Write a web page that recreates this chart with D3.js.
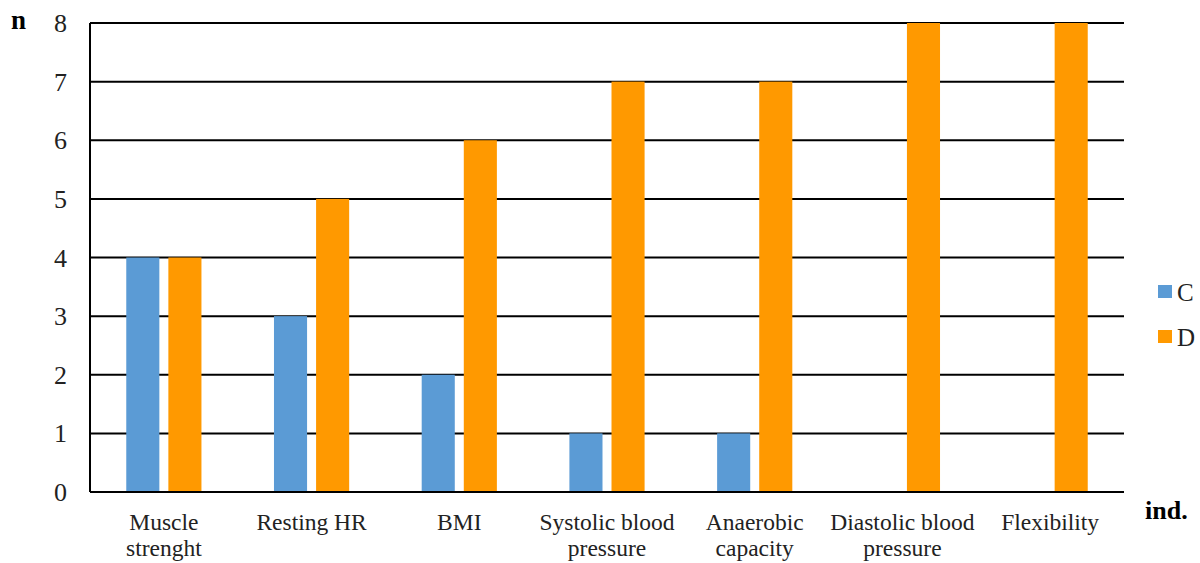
<!DOCTYPE html>
<html>
<head>
<meta charset="utf-8">
<script src="https://cdn.jsdelivr.net/npm/d3@7"></script>
<style>
  html, body { margin: 0; padding: 0; background: #fff; }
  svg { display: block; }
</style>
</head>
<body>
<svg id="chart" width="1200" height="563"></svg>
<script>
// Indicators (two-line labels) and counts per group
const categories = [
  ["Muscle", "strenght"],
  ["Resting HR"],
  ["BMI"],
  ["Systolic blood", "pressure"],
  ["Anaerobic", "capacity"],
  ["Diastolic blood", "pressure"],
  ["Flexibility"]
];
const seriesC = [4, 3, 2, 1, 1, 0, 0];
const seriesD = [4, 5, 6, 7, 7, 8, 8];
const seriesNames = ["C", "D"];
const yTicks = [0, 1, 2, 3, 4, 5, 6, 7, 8];

const colors = { C: "#5B9BD5", D: "#FF9900" };
const FONT = "'Times New Roman', 'Liberation Serif', 'DejaVu Serif', serif";

const svg = d3.select("#chart").style("font-family", FONT);
const plot = { left: 90, right: 1124, top: 23, bottom: 492 };

const x = d3.scaleBand()
  .domain(d3.range(categories.length))
  .range([plot.left, plot.right])
  .paddingInner(0).paddingOuter(0);

const y = d3.scaleLinear().domain([0, 8]).range([plot.bottom, plot.top]);

// Horizontal gridlines
svg.append("g")
  .selectAll("line")
  .data(yTicks)
  .join("line")
  .attr("x1", plot.left).attr("x2", plot.right)
  .attr("y1", d => y(d)).attr("y2", d => y(d))
  .attr("stroke", "#000").attr("stroke-width", 2);

// Vertical axis line
svg.append("line")
  .attr("x1", plot.left).attr("x2", plot.left)
  .attr("y1", plot.top).attr("y2", plot.bottom)
  .attr("stroke", "#000").attr("stroke-width", 2);

// Bars
const bw = x.bandwidth() * 0.224;
const gap = x.bandwidth() * 0.061;
const series = [
  { name: "C", values: seriesC, offset: -gap / 2 - bw },
  { name: "D", values: seriesD, offset: gap / 2 }
];
series.forEach(s => {
  svg.append("g")
    .selectAll("rect")
    .data(s.values.map((v, i) => ({ v, i })))
    .join("rect")
    .attr("x", d => x(d.i) + x.bandwidth() / 2 + s.offset)
    .attr("width", bw)
    .attr("y", d => y(d.v))
    .attr("height", d => y(0) - y(d.v))
    .attr("fill", colors[s.name]);
});

// Baseline drawn on top
svg.append("line")
  .attr("x1", plot.left).attr("x2", plot.right)
  .attr("y1", y(0)).attr("y2", y(0))
  .attr("stroke", "#000").attr("stroke-width", 2);

// Y tick labels
svg.append("g")
  .selectAll("text")
  .data(yTicks)
  .join("text")
  .attr("x", 67)
  .attr("y", d => y(d) + 9)
  .attr("text-anchor", "end")
  .attr("font-size", 26)
  .attr("fill", "#222")
  .text(d => d);

// Category labels
const catG = svg.append("g");
categories.forEach((lines, i) => {
  const t = catG.append("text")
    .attr("text-anchor", "middle")
    .attr("font-size", 23.5)
    .attr("fill", "#222");
  lines.forEach((ln, j) => {
    t.append("tspan")
      .attr("x", x(i) + x.bandwidth() / 2)
      .attr("y", 530 + j * 26)
      .text(ln);
  });
});

// Axis titles
svg.append("text").attr("x", 11).attr("y", 29)
  .attr("font-size", 27).attr("font-weight", "bold").text("n");
svg.append("text").attr("x", 1145).attr("y", 519)
  .attr("font-size", 26).attr("font-weight", "bold").text("ind.");

// Legend
const legend = svg.append("g");
seriesNames.forEach((name, i) => {
  const cy = 292 + i * 45;
  legend.append("rect")
    .attr("x", 1158).attr("y", cy - 7)
    .attr("width", 14).attr("height", 13)
    .attr("fill", colors[name]);
  legend.append("text")
    .attr("x", 1177).attr("y", cy + 9)
    .attr("font-size", 25).attr("fill", "#222")
    .text(name);
});
</script>
</body>
</html>
